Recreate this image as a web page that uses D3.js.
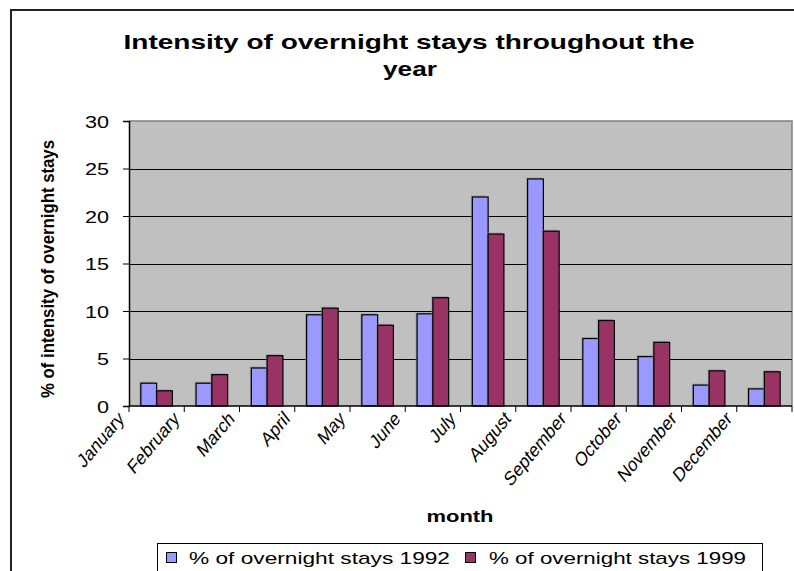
<!DOCTYPE html>
<html><head><meta charset="utf-8">
<script src="https://cdn.jsdelivr.net/npm/d3@7"></script>
<style>
html,body{margin:0;padding:0;background:#fff;}
text{font-family:"Liberation Sans",Arial,sans-serif;}
</style></head>
<body>
<svg id="c" width="794" height="571"></svg>
<script>
const months = ["January","February","March","April","May","June","July","August","September","October","November","December"];
const series1992 = [2.4,2.4,4.0,9.6,9.6,9.7,22.0,23.9,7.1,5.2,2.2,1.8];
const series1999 = [1.6,3.3,5.3,10.3,8.5,11.4,18.1,18.4,9.0,6.7,3.7,3.6];
const seriesNames = ["% of overnight stays 1992","% of overnight stays 1999"];
const seriesColors = ["#9999FF","#993366"];
const yTicks = [0,5,10,15,20,25,30];

(function(){
const svg = d3.select("#c");
const sx = 1.35; // horizontal stretch of text in the reference

// chart border
svg.append("path").attr("d","M11,600 L11,10 L800,10").attr("fill","none").attr("stroke","#222").attr("stroke-width",2);

const pl=129, pr=792, pt=121, pb=406;
const x = d3.scaleBand().domain(months).range([pl,pr]).paddingInner(0).paddingOuter(0);
const y = d3.scaleLinear().domain([0,30]).range([pb,pt]);

// plot background
svg.append("rect").attr("x",pl).attr("y",pt).attr("width",pr-pl).attr("height",pb-pt).attr("fill","#C0C0C0");
svg.append("path").attr("d",`M${pl},${pt} L${pr},${pt} L${pr},${pb}`).attr("fill","none").attr("stroke","#808080").attr("stroke-width",1.5);

// gridlines
svg.append("g").selectAll("line").data(yTicks.filter(d=>d>0&&d<30)).join("line")
  .attr("x1",pl).attr("x2",pr).attr("y1",d=>Math.round(y(d))+0.5).attr("y2",d=>Math.round(y(d))+0.5)
  .attr("stroke","#000").attr("stroke-width",1);

// bars
const bw = x.bandwidth()/3.5;
const data = months.map((m,i)=>({m, vals:[series1992[i],series1999[i]]}));
const g = svg.append("g");
data.forEach(d=>{
  d.vals.forEach((v,k)=>{
    const bx = x(d.m) + 0.75*bw + k*bw;
    g.append("rect").attr("x",bx-1.5).attr("y",y(v)-1.5).attr("width",bw).attr("height",pb-y(v)+1.5)
      .attr("fill","#8a8a8a").attr("opacity",0.6);
    g.append("rect").attr("x",bx).attr("y",y(v)).attr("width",bw).attr("height",pb-y(v))
      .attr("fill",seriesColors[k]).attr("stroke","#000").attr("stroke-width",1.2);
  });
});

// y axis
const yAxis = d3.axisLeft(y).tickValues(yTicks).tickSize(6).tickFormat(d3.format("d"));
const ya = svg.append("g").attr("transform",`translate(${pl},0)`).call(yAxis);
ya.select(".domain").attr("stroke","#000").attr("stroke-width",1.5);
ya.selectAll(".tick line").attr("stroke","#000");
ya.selectAll(".tick text").remove();
ya.selectAll(".tick").append("text")
  .attr("transform",`translate(-20,6) scale(${sx},1)`)
  .attr("text-anchor","end").attr("font-size",16).attr("fill","#000").text(d=>d);

// x axis
const xTickVals = months.concat(["__end"]);
const xPos = d => d==="__end" ? pr : x(d);
const xa = svg.append("g");
xa.append("line").attr("x1",pl).attr("x2",pr).attr("y1",pb).attr("y2",pb).attr("stroke","#000").attr("stroke-width",1.5);
xa.selectAll("line.t").data(xTickVals).join("line").attr("class","t")
  .attr("x1",d=>xPos(d)).attr("x2",d=>xPos(d)).attr("y1",pb).attr("y2",pb+6).attr("stroke","#000");
xa.selectAll("text").data(months).join("text")
  .attr("transform",d=>`translate(${x(d)-4},${pb+14}) rotate(-50) skewX(-12)`)
  .attr("text-anchor","end").attr("font-size",18).attr("fill","#000").text(d=>d);

// title
svg.append("text").attr("x",409).attr("y",49).attr("text-anchor","middle").attr("font-size",21).attr("font-weight","bold")
  .attr("textLength",571).attr("lengthAdjust","spacingAndGlyphs").text("Intensity of overnight stays throughout the");
svg.append("text").attr("x",410).attr("y",76).attr("text-anchor","middle").attr("font-size",21).attr("font-weight","bold")
  .attr("textLength",54).attr("lengthAdjust","spacingAndGlyphs").text("year");

// axis titles
svg.append("text").attr("x",460).attr("y",522).attr("text-anchor","middle").attr("font-size",16).attr("font-weight","bold")
  .attr("textLength",67).attr("lengthAdjust","spacingAndGlyphs").text("month");
svg.append("text").attr("transform",`translate(54,269) scale(${sx},1) rotate(-90)`).attr("text-anchor","middle")
  .attr("font-size",14).attr("font-weight","bold").attr("textLength",258).attr("lengthAdjust","spacingAndGlyphs")
  .text("% of intensity of overnight stays");

// legend
const lg = svg.append("g");
lg.append("rect").attr("x",157.5).attr("y",543.5).attr("width",605).attr("height",40).attr("fill","#fff").attr("stroke","#000");
const legX = [166,465], legTX=[189,489], legTL=[261,257];
seriesNames.forEach((n,k)=>{
  lg.append("rect").attr("x",legX[k]+0.5).attr("y",552.5).attr("width",10).attr("height",10).attr("fill",seriesColors[k]).attr("stroke","#000");
  lg.append("text").attr("x",legTX[k]).attr("y",564).attr("font-size",17).attr("textLength",legTL[k]).attr("lengthAdjust","spacingAndGlyphs").text(n);
});
})();
</script>
</body></html>
